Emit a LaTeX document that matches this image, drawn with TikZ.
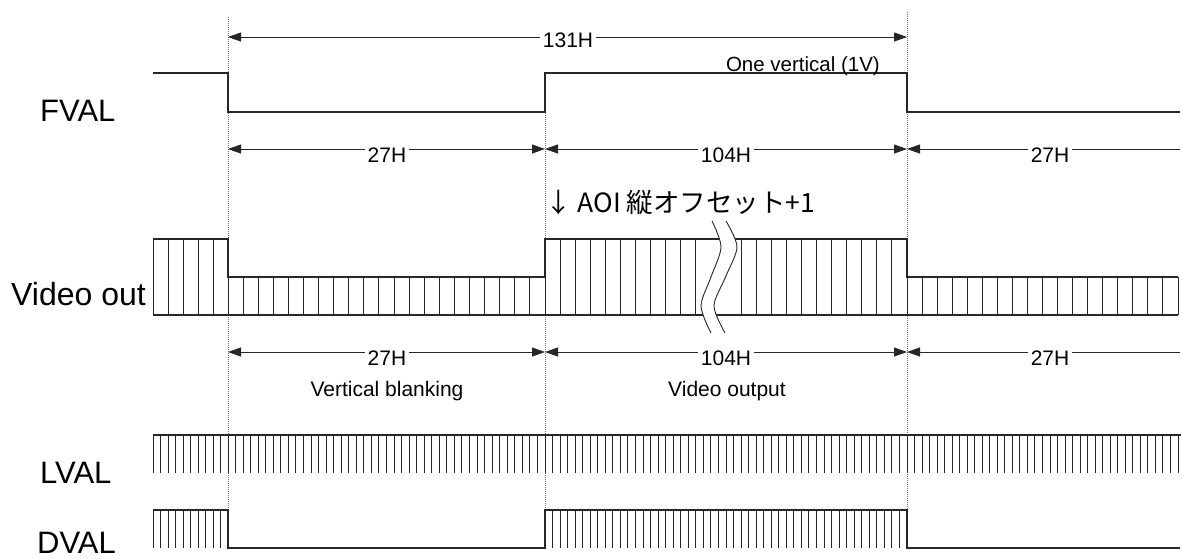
\documentclass[tikz,border=0pt]{standalone}
\usepackage{fontspec}
\setmainfont{Liberation Sans}
\newfontfamily\jpfont{Noto Sans CJK JP}
\usetikzlibrary{arrows.meta}
\begin{document}
\begin{tikzpicture}[x=1pt,y=-1pt,
  >={Triangle[length=13pt,width=9pt]},
  sig/.style={line width=1.1pt, black!85},
  tick/.style={line width=1pt, black!85},
  guide/.style={line width=1pt, black!55, dash pattern=on 1pt off 1pt},
  dim/.style={line width=0.9pt, black!85},
  dimlbl/.style={font=\fontsize{21}{24}\selectfont, fill=white, inner xsep=2.5pt, inner ysep=1pt, anchor=base},
  siglbl/.style={font=\fontsize{31}{36}\selectfont, anchor=base west, inner sep=0pt},
  note/.style={font=\fontsize{21}{24}\selectfont, anchor=base, inner sep=0pt},
  wave/.style={line width=0.9pt, black!85}]
\useasboundingbox (0,0) rectangle (1182,558);

% guide coordinates
\coordinate (gA0) at (228,17);  \coordinate (gA1) at (228,510);
\coordinate (gB0) at (545,73);  \coordinate (gB1) at (545,510);
\coordinate (gC0) at (907,12);  \coordinate (gC1) at (907,510);
\draw[guide] (gA0) -- (gA1);
\draw[guide] (gB0) -- (gB1);
\draw[guide] (gC0) -- (gC1);

% signal labels
\node[siglbl] (fval) at (40,121) {FVAL};
\node[siglbl, font=\fontsize{32}{36}\selectfont] (vout) at (11,305) {Video out};
\node[siglbl] (lval) at (40,483) {LVAL};
\node[siglbl] (dval) at (37,553) {DVAL};

% FVAL
\draw[sig] (153,73) -- (228,73) -- (228,112) -- (545,112) -- (545,73) -- (907,73) -- (907,112) -- (1180,112);

% Video out
\draw[sig] (153,315) -- (1178,315);
\draw[sig] (153,239) -- (228,239) -- (228,277) -- (545,277) -- (545,239) -- (907,239) -- (907,277) -- (1178,277);
\foreach \i in {0,...,5} \draw[tick] ({153+\i*15},239) -- ++(0,76);
\foreach \i in {1,...,21} \draw[tick] ({228+\i/21*317},277) -- ++(0,38);
\foreach \i in {1,...,10,13,14,...,24} \draw[tick] ({545+\i/24*362},239) -- ++(0,76);
\foreach \i in {1,...,18} \draw[tick] ({907+\i/18*271},277) -- ++(0,38);

% break mark
\fill[white] plot[smooth] coordinates {(712,221) (721,247) (711,277) (701,306) (711,333)}
  -- plot[smooth] coordinates {(725,333) (714,306) (725.5,277) (737,247) (726,221)} -- cycle;
\draw[wave] plot[smooth] coordinates {(712,221) (721,247) (711,277) (701,306) (711,333)};
\draw[wave] plot[smooth] coordinates {(726,221) (737,247) (725.5,277) (714,306) (725,333)};

% LVAL
\draw[sig] (153,435) -- (1181,435);
\foreach \a/\b/\n in {153/228/10, 228/545/42, 545/907/48, 907/1178/36}
  \foreach \i in {0,...,\n} \draw[tick] ({\a+\i/\n*(\b-\a)},435) -- ++(0,38);

% DVAL
\draw[sig] (153,510) -- (228,510) -- (228,548) -- (545,548) -- (545,510) -- (907,510) -- (907,548) -- (1180,548);
\foreach \a/\b/\n in {153/228/10, 545/907/48}
  \foreach \i in {0,...,\n} \draw[tick] ({\a+\i/\n*(\b-\a)},510) -- ++(0,38);

% dimension coordinates
\coordinate (t0) at (228,37);  \coordinate (t1) at (907,37);
\coordinate (r1a) at (228,149); \coordinate (r1b) at (545,149); \coordinate (r1c) at (907,149); \coordinate (r1d) at (1180,149);
\coordinate (r2a) at (228,352); \coordinate (r2b) at (545,352); \coordinate (r2c) at (907,352); \coordinate (r2d) at (1180,352);

\draw[dim, <->] (t0) -- (t1);
\node[dimlbl] (l131) at (568,47) {131H};

\draw[dim, <->] (r1a) -- (r1b);
\draw[dim, <->] (r1b) -- (r1c);
\draw[dim, <-] (r1c) -- (r1d);
\node[dimlbl] (l27a) at (387,162) {27H};
\node[dimlbl] (l104a) at (726,162) {104H};
\node[dimlbl] (l27b) at (1050,162) {27H};

\draw[dim, <->] (r2a) -- (r2b);
\draw[dim, <->] (r2b) -- (r2c);
\draw[dim, <-] (r2c) -- (r2d);
\node[dimlbl] (l27c) at (387,365) {27H};
\node[dimlbl] (l104b) at (726,365) {104H};
\node[dimlbl] (l27d) at (1050,365) {27H};

\node[note] (vblank) at (387,396) {Vertical blanking};
\node[note] (vidout) at (727,396) {Video output};
\node[note, anchor=base east, font=\fontsize{20.5}{24}\selectfont] (onev) at (880,71) {One vertical (1V)};
\node[anchor=base west, inner sep=0pt, font=\jpfont\fontsize{26.5}{30}\selectfont] (aoi) at (545,212) {↓ AOI 縦オフセット+1};
\end{tikzpicture}
\end{document}
